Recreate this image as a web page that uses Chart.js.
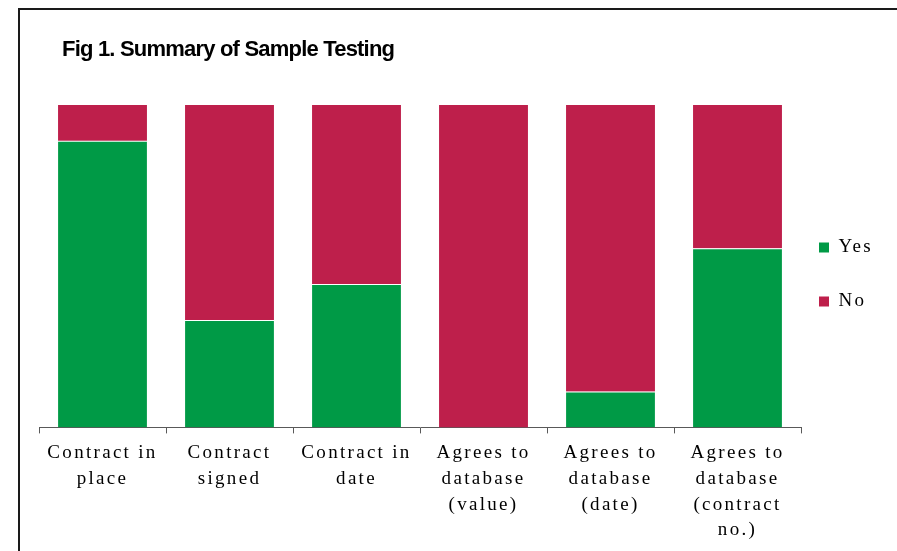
<!DOCTYPE html>
<html>
<head>
<meta charset="utf-8">
<title>Fig 1. Summary of Sample Testing</title>
<script src="https://cdn.jsdelivr.net/npm/chart.js@4.4.0/dist/chart.umd.min.js"></script>
<style>
  html, body { margin: 0; padding: 0; background: #fff; overflow: hidden; }
  #frame { position: absolute; left: 18px; top: 8px; width: 900px; height: 560px;
           border-top: 2px solid #1a1a1a; border-left: 2px solid #1a1a1a; }
  #wrap { position: absolute; left: 0; top: 0; width: 897px; height: 551px; }
</style>
</head>
<body>
<div id="frame"></div>
<div id="wrap"><canvas id="chart" width="897" height="551"></canvas></div>
<script>
// data (counts out of 9 samples)
const categories = [
  ["Contract in", "place"],
  ["Contract", "signed"],
  ["Contract in", "date"],
  ["Agrees to", "database", "(value)"],
  ["Agrees to", "database", "(date)"],
  ["Agrees to", "database", "(contract", "no.)"]
];
const yesCounts = [8, 3, 4, 0, 1, 5];
const noCounts = [1, 6, 5, 9, 8, 4];
const seriesNames = ["Yes", "No"];
const chartTitle = "Fig 1. Summary of Sample Testing";

const serif = '"Liberation Serif", "Times New Roman", serif';
const totals = yesCounts.map((v, i) => v + noCounts[i]);

// canvas letter spacing for the serif labels, title drawn by hand, legend nudged
const layoutPlugin = {
  id: 'layoutTweaks',
  beforeUpdate(chart) { chart.ctx.letterSpacing = '2.3px'; },
  afterLayout(chart) {
    const lg = chart.legend;
    const dx = 784 - lg.left;
    lg.left += dx; lg.right += dx;
    lg.top -= 53; lg.bottom -= 53;
  },
  beforeDraw(chart) { chart.ctx.letterSpacing = '2.3px'; },
  afterDraw(chart) {
    const ctx = chart.ctx;
    ctx.save();
    ctx.letterSpacing = '-0.8px';
    ctx.font = 'bold 22px "Liberation Sans", Arial, sans-serif';
    ctx.fillStyle = '#000';
    ctx.textBaseline = 'alphabetic';
    ctx.textAlign = 'left';
    ctx.fillText(chartTitle, 62, 56);
    ctx.restore();
  }
};

function createChart() {
  const chartContext = document.getElementById('chart');
  new Chart(chartContext, {
    type: 'bar',
    data: {
      labels: categories,
      datasets: [
        {
          label: seriesNames[0],
          data: yesCounts,
          backgroundColor: '#009A46',
          borderColor: '#ffffff',
          borderWidth: { top: 1, left: 0, right: 0, bottom: 0 },
          borderSkipped: false,
          categoryPercentage: 1,
          barPercentage: 0.7
        },
        {
          label: seriesNames[1],
          data: noCounts,
          backgroundColor: '#BE1F4B',
          borderWidth: 0,
          categoryPercentage: 1,
          barPercentage: 0.7
        }
      ]
    },
    options: {
      responsive: false,
      animation: false,
      layout: { padding: { top: 105, left: 39, right: 0, bottom: 1 } },
      scales: {
        x: {
          stacked: true,
          offset: true,
          grid: { display: true, drawOnChartArea: false, drawTicks: true, tickLength: 6, color: '#595959', offset: true },
          border: { display: true, color: '#595959', width: 1 },
          ticks: {
            color: '#000',
            font: { family: serif, size: 19, lineHeight: 1.35 },
            padding: 7,
            maxRotation: 0,
            autoSkip: false
          }
        },
        y: {
          stacked: true,
          display: false,
          min: 0,
          max: Math.max(...totals)
        }
      },
      plugins: {
        title: { display: false },
        tooltip: { enabled: false },
        legend: {
          position: 'right',
          maxWidth: 96,
          labels: {
            boxWidth: 10,
            boxHeight: 10,
            padding: 35,
            color: '#000',
            font: { family: serif, size: 19 },
            generateLabels(chart) {
              return chart.data.datasets.map((ds, i) => ({
                text: ds.label,
                fillStyle: ds.backgroundColor,
                strokeStyle: ds.backgroundColor,
                lineWidth: 0,
                hidden: false,
                datasetIndex: i
              }));
            }
          }
        }
      }
    },
    plugins: [layoutPlugin]
  });
}

createChart();
</script>
</body>
</html>
